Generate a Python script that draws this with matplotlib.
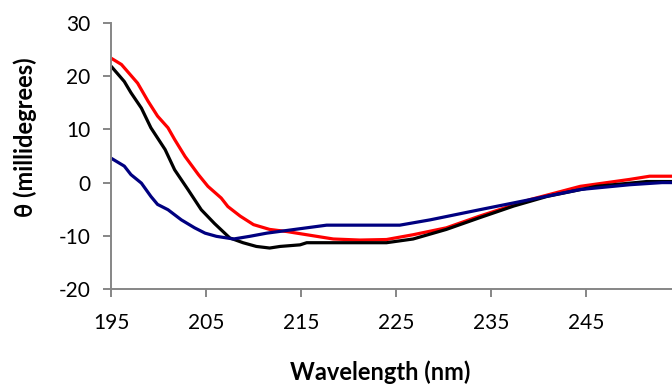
import matplotlib
matplotlib.use("Agg")
import matplotlib.pyplot as plt

### Data (wavelength in nm, theta in millidegrees)

red_x = [195.0, 196.1, 197.8, 198.9, 199.9, 201.0, 201.7, 202.8, 204.2, 205.2, 206.6,
         207.3, 208.6, 210.0, 211.7, 213.5, 215.6, 218.4, 221.2, 224.0, 226.8, 230.3,
         233.8, 239.1, 244.4, 249.6, 251.7, 255.0]
red_y = [23.4, 22.2, 18.7, 15.3, 12.5, 10.3, 8.1, 4.9, 1.5, -0.7, -2.9,
         -4.5, -6.3, -7.9, -8.8, -9.2, -9.8, -10.6, -10.8, -10.7, -9.8, -8.5,
         -6.3, -3.2, -0.7, 0.6, 1.2, 1.2]

black_x = [195.0, 196.4, 197.1, 198.2, 199.2, 200.7, 201.7, 203.1, 204.5, 205.9, 207.5,
           208.9, 210.3, 211.7, 212.8, 214.9, 215.6, 218.4, 224.0, 226.8, 230.3, 233.8,
           237.4, 240.9, 246.1, 251.4, 255.0]
black_y = [21.9, 19.0, 16.9, 14.0, 10.3, 6.2, 2.4, -1.3, -5.1, -7.7, -10.4,
           -11.3, -12.0, -12.3, -12.0, -11.7, -11.3, -11.3, -11.3, -10.6, -8.8, -6.6,
           -4.4, -2.6, -0.7, 0.2, 0.2]

blue_x = [195.0, 196.4, 197.1, 198.2, 199.2, 199.9, 201.0, 202.4, 203.8, 204.9, 206.1,
          207.9, 209.6, 211.4, 213.5, 215.6, 217.7, 221.2, 225.4, 228.6, 233.8, 239.1,
          244.4, 249.6, 253.0, 255.0]
blue_y = [4.6, 3.1, 1.5, -0.1, -2.6, -4.1, -5.1, -7.0, -8.5, -9.5, -10.1,
          -10.6, -10.1, -9.5, -9.0, -8.5, -8.0, -8.0, -8.0, -7.0, -5.1, -3.2,
          -1.3, -0.4, 0.0, 0.0]

x_ticks = [195, 205, 215, 225, 235, 245]
y_ticks = [-20, -10, 0, 10, 20, 30]

### Figure

plt.rcParams['font.family'] = ['Lato', 'DejaVu Sans']
axis_grey = '#868686'

fig = plt.figure(figsize=(6.72, 3.85), dpi=100)
ax = fig.add_axes([111 / 672, 96 / 385, 570 / 672, 266 / 385])

ax.plot(red_x, red_y, color='#ff0000', lw=2.3, solid_capstyle='butt')
ax.plot(black_x, black_y, color='black', lw=2.3, solid_capstyle='butt')
ax.plot(blue_x, blue_y, color='#000080', lw=2.3, solid_capstyle='butt')

ax.set_xlim(195, 255)
ax.set_ylim(-20, 30)
ax.set_xticks(x_ticks)
ax.set_yticks(y_ticks)
ax.set_yticklabels([str(v) for v in y_ticks])

for side in ['top', 'right']:
    ax.spines[side].set_visible(False)
for side in ['left', 'bottom']:
    ax.spines[side].set_color(axis_grey)
    ax.spines[side].set_linewidth(1.4)

ax.tick_params(axis='both', direction='out', length=6, width=1.4, color=axis_grey,
               labelsize=15, labelcolor='black')
ax.tick_params(axis='y', pad=9)
ax.tick_params(axis='x', pad=11)

fig.text(380 / 672, 1 - 372 / 385, 'Wavelength (nm)', ha='center', va='center',
         fontsize=17, fontweight='bold')
fig.text(25 / 672, 1 - 137 / 385, 'θ (millidegrees)', ha='center', va='center',
         rotation=90, fontsize=17, fontweight='bold')

fig.savefig('out.png', dpi=100)
